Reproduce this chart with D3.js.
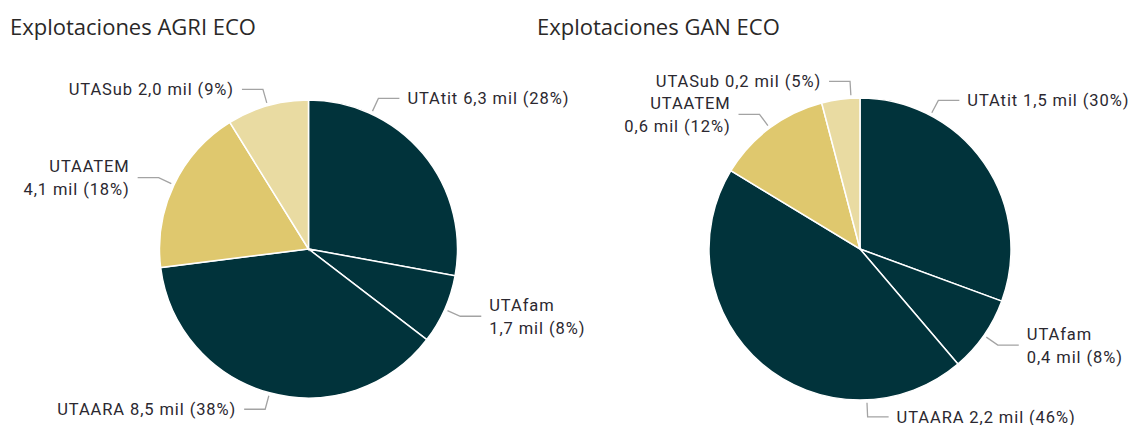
<!DOCTYPE html>
<html>
<head>
<meta charset="utf-8">
<script src="https://cdn.jsdelivr.net/npm/d3@7"></script>
<style>
  body { margin: 0; background: #fff; }
  svg { display: block; }
</style>
</head>
<body>
<svg id="chart" width="1131" height="425"></svg>
<script>
// data
const categories = ["UTAtit", "UTAfam", "UTAARA", "UTAATEM", "UTASub"];
const agriValues = [6.3, 1.7, 8.5, 4.1, 2.0];
const agriShares = [28, 8, 38, 18, 9];
const ganValues = [1.5, 0.4, 2.2, 0.6, 0.2];
const ganShares = [30, 8, 46, 12, 5];
const titles = ["Explotaciones AGRI ECO", "Explotaciones GAN ECO"];

const colors = {
  UTAtit: "#01333b",
  UTAfam: "#01333b",
  UTAARA: "#01333b",
  UTAATEM: "#dfc86e",
  UTASub: "#e9dba2"
};

// layout of each pie; leader angles (degrees) where the label was pushed off the slice middle
const panels = [
  { title: titles[0], values: agriValues, shares: agriShares, tx: 10, cx: 308.5, cy: 249, r: 149,
    leaderAngle: { UTAtit: 24.9 }, wrap: ["UTAATEM", "UTAfam"] },
  { title: titles[1], values: ganValues, shares: ganShares, tx: 537, cx: 860, cy: 249, r: 151,
    leaderAngle: { UTAtit: 27.8, UTASub: 356.6, UTAARA: 177.4 }, wrap: ["UTAATEM", "UTAfam"] }
];

const svg = d3.select("#chart");
const fmt = v => v.toFixed(1).replace(".", ",");

const pie = d3.pie().sort(null).value(d => d.value);
const arc = d3.arc().innerRadius(0);

panels.forEach(p => {
  const rows = categories.map((c, i) => ({ name: c, value: p.values[i], share: p.shares[i] }));
  const arcs = pie(rows);

  svg.append("text")
    .attr("x", p.tx)
    .attr("y", 35)
    .attr("font-family", "'Open Sans', sans-serif")
    .attr("font-size", 22)
    .attr("fill", "#2a2827")
    .text(p.title);

  const g = svg.append("g").attr("transform", `translate(${p.cx},${p.cy})`);

  g.selectAll("path.slice")
    .data(arcs)
    .join("path")
    .attr("class", "slice")
    .attr("d", d => arc.outerRadius(p.r)(d))
    .attr("fill", d => colors[d.data.name])
    .attr("stroke", "#fff")
    .attr("stroke-width", 1.5);

  arcs.forEach(d => {
    const deg = p.leaderAngle[d.data.name] != null
      ? p.leaderAngle[d.data.name]
      : ((d.startAngle + d.endAngle) / 2) * 180 / Math.PI;
    const a = deg * Math.PI / 180;
    const sx = Math.sin(a), sy = -Math.cos(a);
    const side = sx >= 0 ? 1 : -1;
    const p0 = [sx * (p.r + 3), sy * (p.r + 3)];
    const p1 = [sx * (p.r + 17), sy * (p.r + 17)];
    const p2 = [p1[0] + side * 21, p1[1]];

    g.append("polyline")
      .attr("points", [p0, p1, p2].map(q => q.join(",")).join(" "))
      .attr("fill", "none")
      .attr("stroke", "#a3a3a3")
      .attr("stroke-width", 1.3);

    const label = `${fmt(d.data.value)} mil (${d.data.share}%)`;
    const lines = p.wrap.includes(d.data.name)
      ? [d.data.name, label]
      : [`${d.data.name} ${label}`];
    const lh = 23;
    const t = g.append("text")
      .attr("x", p2[0] + side * 8)
      .attr("y", p2[1] - (lines.length - 1) * lh / 2)
      .attr("text-anchor", side > 0 ? "start" : "end")
      .attr("dominant-baseline", "central")
      .attr("font-family", "Roboto, sans-serif")
      .attr("font-size", 16.5)
      .attr("letter-spacing", 0.9)
      .attr("fill", "#2b2830");
    lines.forEach((s, i) => {
      t.append("tspan")
        .attr("x", p2[0] + side * 8)
        .attr("dy", i === 0 ? 0 : lh)
        .text(s);
    });
  });
});
</script>
</body>
</html>
